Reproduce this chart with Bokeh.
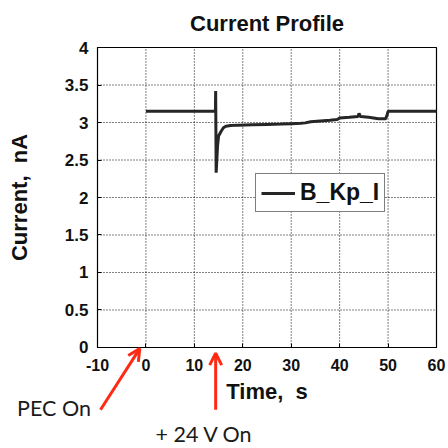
from bokeh.plotting import figure
from bokeh.embed import file_html
from bokeh.resources import INLINE
from bokeh.models import Arrow, OpenHead, Label, FixedTicker, Range1d

# ---- data ----
time_s = [0, 14.35, 14.4, 14.5, 14.8, 15.0, 15.5, 16.0, 16.5, 17.5, 19.0, 22.0,
          25.0, 28.0, 30.0, 32.0, 32.9, 34.0, 36.0, 38.0, 39.5, 40.0, 42.0,
          43.8, 44.0, 44.3, 46.0, 47.0, 48.0, 49.5, 49.8, 50.0, 60.0]
current_nA = [3.15, 3.15, 3.42, 2.33, 2.70, 2.82, 2.88, 2.93, 2.95, 2.96, 2.965, 2.97,
              2.975, 2.98, 2.985, 2.99, 2.995, 3.01, 3.02, 3.03, 3.04, 3.06, 3.07,
              3.08, 3.12, 3.08, 3.07, 3.06, 3.05, 3.05, 3.10, 3.15, 3.15]
series_name = "B_Kp_I"
x_ticks = [-10, 0, 10, 20, 30, 40, 50, 60]
y_ticks = [0, 0.5, 1, 1.5, 2, 2.5, 3, 3.5, 4]

title_text = "Current Profile"
x_label = "Time,\u00a0\u00a0s"
y_label = "Current,\u00a0\u00a0nA"

# annotation texts and arrow anchors (data units)
pec_text = "PEC On"
v24_text = "+ 24 V On"
pec_arrow = dict(x_start=-9.38, y_start=-0.83, x_end=-1.27, y_end=-0.015)
v24_arrow = dict(x_start=14.4, y_start=-0.83, x_end=14.4, y_end=-0.075)

x0, x1 = x_ticks[0], x_ticks[-1]
y0, y1 = y_ticks[0], y_ticks[-1]

# the frame covers the whole page, so that the notes below the axes are not clipped
p = figure(width=448, height=448, output_backend="svg", toolbar_location=None,
           x_range=Range1d(-30.03, 62.478), y_range=Range1d(-1.3467, 4.6267),
           min_border=0, min_border_left=0, min_border_right=0,
           min_border_top=0, min_border_bottom=0)
p.outline_line_color = None
p.background_fill_color = "white"
p.border_fill_color = "white"
p.grid.visible = False

# dotted grid inside the axes box
gx = [t for t in x_ticks[1:-1]]
gy = [t for t in y_ticks[1:-1]]
p.segment(x0=gx, y0=[y0] * len(gx), x1=gx, y1=[y1] * len(gx),
          line_color="black", line_width=1, line_dash="1 2")
p.segment(x0=[x0] * len(gy), y0=gy, x1=[x1] * len(gy), y1=gy,
          line_color="black", line_width=1, line_dash="1 2")
# box
p.quad(left=[x0], right=[x1], bottom=[y0], top=[y1], fill_color=None,
       line_color="black", line_width=1.2)

p.line(time_s, current_nA, line_color="#262626", line_width=3, legend_label=series_name)

p.xaxis.fixed_location = y0
p.yaxis.fixed_location = x0
p.xaxis.bounds = (x0, x1)
p.yaxis.bounds = (y0, y1)

for ax in (p.xaxis, p.yaxis):
    ax.axis_label_text_font = "Liberation Sans"
    ax.axis_label_text_font_size = "22px"
    ax.axis_label_text_font_style = "bold"
    ax.axis_label_text_color = "#111111"
    ax.major_label_text_font = "Liberation Sans"
    ax.major_label_text_font_style = "bold"
    ax.major_label_text_color = "#111111"
    ax.major_tick_in = 4
    ax.major_tick_out = 0
    ax.minor_tick_in = 0
    ax.minor_tick_out = 0
    ax.axis_line_color = "black"
    ax.major_tick_line_color = "black"

p.xaxis.axis_label = x_label
p.yaxis.axis_label = y_label
p.xaxis.ticker = FixedTicker(ticks=x_ticks)
p.yaxis.ticker = FixedTicker(ticks=y_ticks)
p.xaxis.major_label_overrides = {-10: "-10"}
p.xaxis.major_label_text_font_size = "16px"
p.yaxis.major_label_text_font_size = "17px"
p.xaxis.major_label_standoff = 12
p.yaxis.major_label_standoff = 9
p.xaxis.axis_label_standoff = 4
p.yaxis.axis_label_standoff = 30

lg = p.legend[0]
lg.location = (255, 236)
lg.border_line_color = "black"
lg.border_line_width = 1.5
lg.label_text_font = "Liberation Sans"
lg.label_text_font_size = "23px"
lg.label_text_font_style = "bold"
lg.label_text_color = "#111111"
lg.glyph_width = 34
lg.label_standoff = 5
lg.padding = 5
lg.margin = 0
lg.background_fill_alpha = 1

p.add_layout(Label(x=(x0 + x1) / 2, y=4.155, text=title_text, text_align="center",
                   text_font="Liberation Sans", text_font_size="22px",
                   text_font_style="bold", text_color="#111111"))

red = "#ff2a14"
for a in (pec_arrow, v24_arrow):
    p.add_layout(Arrow(end=OpenHead(size=12, line_color=red, line_width=3),
                       line_color=red, line_width=3, **a))

p.add_layout(Label(x=-26.6, y=-0.975, text=pec_text, text_font="Lato",
                   text_font_size="21.5px", text_color="#1a1a1a"))
p.add_layout(Label(x=2.0, y=-1.33, text=v24_text, text_font="Lato",
                   text_font_size="21.5px", text_color="#1a1a1a"))

open("out.html", "w").write(file_html(p, INLINE))
